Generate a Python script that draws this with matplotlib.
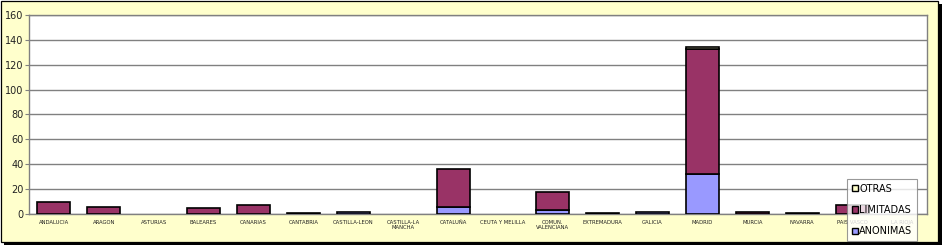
import matplotlib
matplotlib.use("Agg")
import matplotlib.pyplot as plt
from matplotlib.patches import Rectangle, Patch
import numpy as np

categories = ["ANDALUCIA", "ARAGON", "ASTURIAS", "BALEARES", "CANARIAS", "CANTABRIA",
              "CASTILLA-LEON", "CASTILLA-LA\nMANCHA", "CATALUÑA", "CEUTA Y MELILLA",
              "COMUN.\nVALENCIANA", "EXTREMADURA", "GALICIA", "MADRID", "MURCIA",
              "NAVARRA", "PAIS VASCO", "LA RIOJA"]
anonimas  = [0, 0, 0, 0, 0, 0, 2, 0, 6, 0, 3, 0, 2, 32, 0, 0, 0, 0]
limitadas = [10, 6, 0, 5, 7, 1, 0, 0, 30, 0, 15, 1, 0, 101, 2, 1, 7, 0]
otras     = [0, 0, 0, 0, 0, 0, 0, 0, 0, 0, 0, 0, 0, 1, 0, 0, 0, 0]
yticks = [0, 20, 40, 60, 80, 100, 120, 140, 160]

c_anon = "#9999FF"
c_lim = "#993366"
c_otr = "#FFFFCC"
bg = "#FFFFCC"

W, H = 944, 247
fig = plt.figure(figsize=(W/100, H/100), dpi=100)
fig.patch.set_facecolor("white")

# outer frame with shadow
fig.patches.append(Rectangle((4/W, 2/H), 938/W, 241/H, transform=fig.transFigure,
                             facecolor="black", edgecolor="black", linewidth=0, zorder=-2))
fig.patches.append(Rectangle((1/W, 5/H), 937/W, 241/H, transform=fig.transFigure,
                             facecolor=bg, edgecolor="black", linewidth=0.9, zorder=-1))

ax = fig.add_axes([29/W, 1-214/H, (927-29)/W, (214-15)/H])
ax.set_zorder(1)
ax.set_facecolor("white")

x = np.arange(len(categories))
a = np.array(anonimas); l = np.array(limitadas); o = np.array(otras)
w = 0.66
kw = dict(width=w, edgecolor="black", linewidth=1.2, zorder=3)
bars = []
bars += list(ax.bar(x, a, color=c_anon, **kw))
bars += list(ax.bar(x, l, bottom=a, color=c_lim, **kw))
bars += list(ax.bar(x, o, bottom=a + l, color=c_otr, **kw))
for b in bars:
    if b.get_height() == 0:
        b.set_visible(False)

ax.set_xlim(-0.5, len(categories) - 0.5)
ax.set_ylim(0, 160)
ax.set_yticks(yticks)
ax.set_yticklabels([str(v) for v in yticks], fontsize=7, color="#222222")
ax.yaxis.grid(True, color="#808080", linewidth=1.0, zorder=0)
ax.set_xticks(x)
ax.set_xticklabels(categories, fontsize=3.8, color="#222222", linespacing=1.0)
ax.tick_params(axis="x", length=0, pad=4)
ax.tick_params(axis="y", length=3, width=0.8, color="#808080", pad=1)
for s in ax.spines.values():
    s.set_color("#808080")
    s.set_linewidth(1.0)

handles = [Patch(facecolor=c_otr, edgecolor="black", label="OTRAS"),
           Patch(facecolor=c_lim, edgecolor="black", label="LIMITADAS"),
           Patch(facecolor=c_anon, edgecolor="black", label="ANONIMAS")]
leg = fig.legend(handles=handles, loc="lower left",
                 bbox_to_anchor=(847/W, 1-241/H), fontsize=7,
                 handlelength=0.6, handleheight=0.6, handletextpad=0.15,
                 labelspacing=1.15, borderpad=0.5, frameon=True, fancybox=False,
                 borderaxespad=0)
leg.get_frame().set_edgecolor("#808080")
leg.get_frame().set_linewidth(0.8)
leg.get_frame().set_facecolor("white")
leg.set_zorder(20)

fig.savefig("out.png", dpi=100, facecolor="white")
